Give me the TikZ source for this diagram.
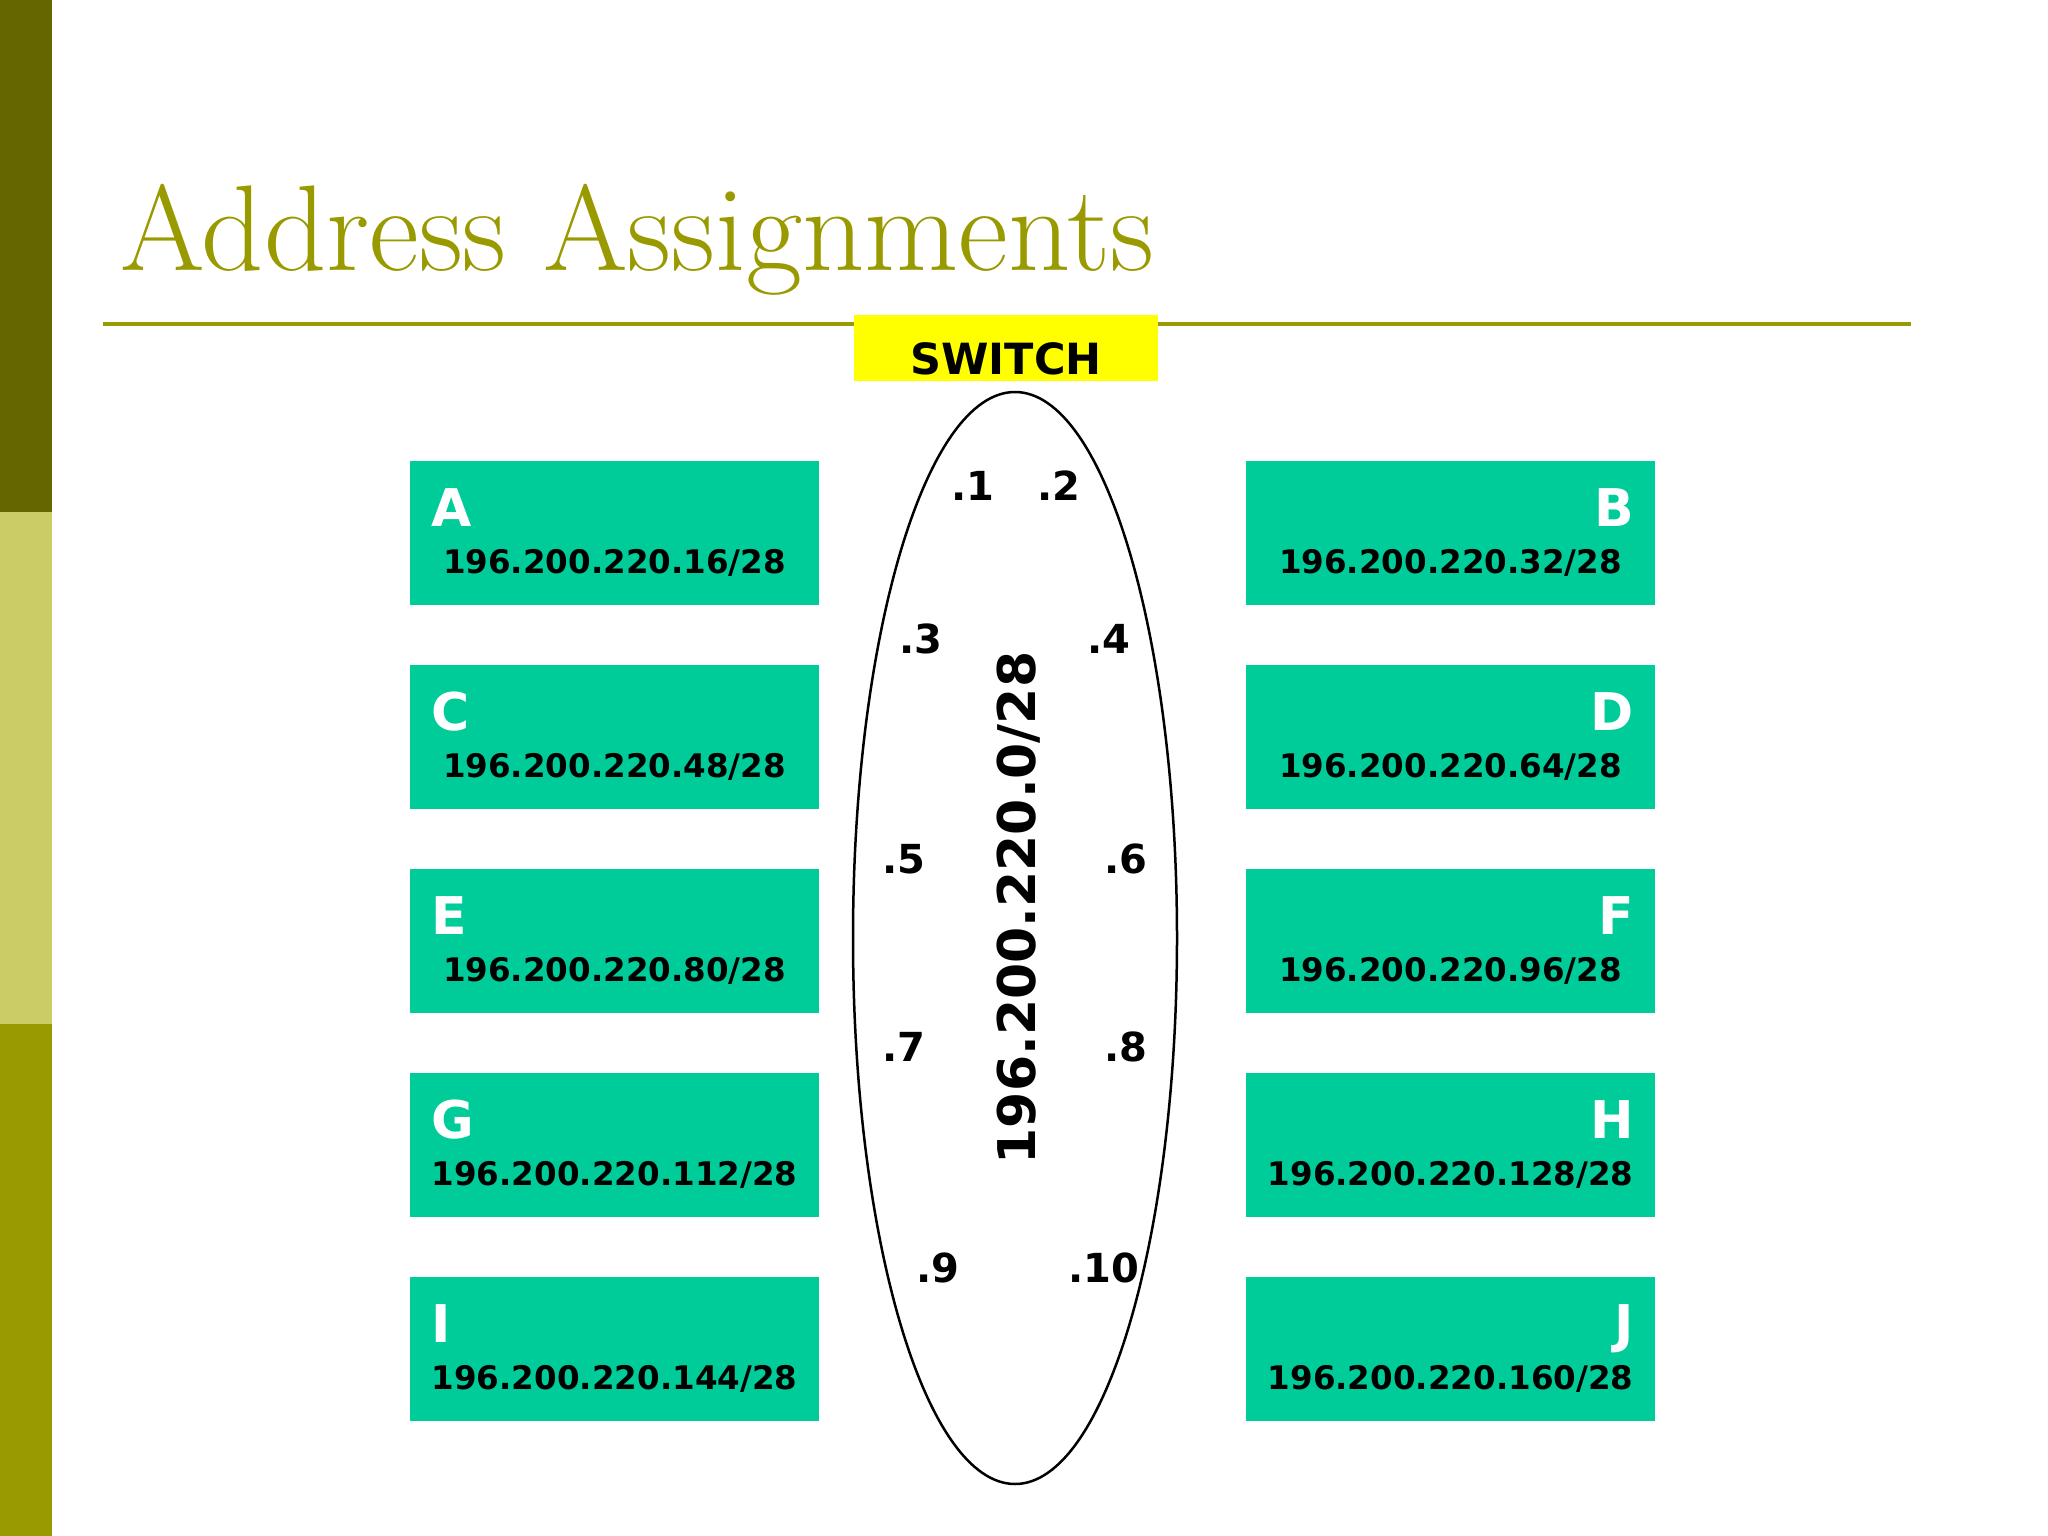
\documentclass[tikz,border=0pt]{standalone}
\usepackage{fontspec}
\usetikzlibrary{shapes.geometric}
\newfontfamily\verd{DejaVu Sans}
\definecolor{bardark}{HTML}{666600}
\definecolor{barlight}{HTML}{CCCC66}
\definecolor{barolive}{HTML}{999900}
\definecolor{titleolive}{HTML}{999900}
\definecolor{hostgreen}{HTML}{00CC99}
\definecolor{switchyellow}{HTML}{FFFF00}
\begin{document}
\begin{tikzpicture}[x=1pt,y=-1pt,
		hostbox/.style={fill=hostgreen, minimum width=409pt, minimum height=144pt, inner sep=0pt},
		hostname/.style={text=white, font=\verd\bfseries\fontsize{52}{52}\selectfont, inner sep=0pt},
		hostaddr/.style={font=\verd\bfseries\fontsize{32.5}{33}\selectfont, inner sep=0pt, anchor=base},
		dotlabel/.style={font=\verd\bfseries\fontsize{40}{40}\selectfont, inner sep=0pt}]
		\useasboundingbox (0,0) rectangle (2048,1536);
		% side bar and title
		\fill[bardark] (0,0) rectangle (52,512);
		\fill[barlight] (0,512) rectangle (52,1024);
		\fill[barolive] (0,1024) rectangle (52,1536);
		\node[anchor=base west, inner sep=0pt, text=titleolive, font=\rmfamily\fontsize{122}{122}\selectfont] (title) at (120,270) {Address Assignments};
		\draw[titleolive, line width=4pt] (103,324) -- (1911,324);
		\node[fill=switchyellow, minimum width=304pt, minimum height=66pt, inner sep=0pt] (switch) at (1006,348) {};
		\node[anchor=base, inner sep=0pt, font=\verd\bfseries\fontsize{43}{43}\selectfont] (switchtext) at (1006,374) {SWITCH};

		% the switch network
		\node[draw, ellipse, line width=2.5pt, minimum width=324pt, minimum height=1092pt, inner sep=0pt] (net) at (1015,938) {};
		\node[rotate=90, inner sep=0pt, font=\verd\bfseries\fontsize{52}{52}\selectfont] (netaddr) at (1019,908) {196.200.220.0/28};
		\node[dotlabel] (d1) at (973,486) {.1};
		\node[dotlabel] (d2) at (1059,486) {.2};
		\node[dotlabel] (d3) at (921,639) {.3};
		\node[dotlabel] (d4) at (1109,639) {.4};
		\node[dotlabel] (d5) at (904,859) {.5};
		\node[dotlabel] (d6) at (1126,859) {.6};
		\node[dotlabel] (d7) at (904,1047) {.7};
		\node[dotlabel] (d8) at (1126,1047) {.8};
		\node[dotlabel] (d9) at (938,1268) {.9};
		\node[dotlabel] (d10) at (1104,1268) {.10};

		% hosts on the left
		\node[hostbox] (boxA) at (614.5,533) {};
		\node[hostname, anchor=base west] (nameA) at ([shift={(21,66)}]boxA.north west) {A};
		\node[hostaddr] (addrA) at ([shift={(0,113)}]boxA.north) {196.200.220.16/28};
		\node[hostbox] (boxC) at (614.5,737) {};
		\node[hostname, anchor=base west] (nameC) at ([shift={(21,66)}]boxC.north west) {C};
		\node[hostaddr] (addrC) at ([shift={(0,113)}]boxC.north) {196.200.220.48/28};
		\node[hostbox] (boxE) at (614.5,941) {};
		\node[hostname, anchor=base west] (nameE) at ([shift={(21,66)}]boxE.north west) {E};
		\node[hostaddr] (addrE) at ([shift={(0,113)}]boxE.north) {196.200.220.80/28};
		\node[hostbox] (boxG) at (614.5,1145) {};
		\node[hostname, anchor=base west] (nameG) at ([shift={(21,66)}]boxG.north west) {G};
		\node[hostaddr] (addrG) at ([shift={(0,113)}]boxG.north) {196.200.220.112/28};
		\node[hostbox] (boxI) at (614.5,1349) {};
		\node[hostname, anchor=base west] (nameI) at ([shift={(21,66)}]boxI.north west) {I};
		\node[hostaddr] (addrI) at ([shift={(0,113)}]boxI.north) {196.200.220.144/28};

		% hosts on the right
		\node[hostbox] (boxB) at (1450.5,533) {};
		\node[hostname, anchor=base east] (nameB) at ([shift={(-21,66)}]boxB.north east) {B};
		\node[hostaddr] (addrB) at ([shift={(0,113)}]boxB.north) {196.200.220.32/28};
		\node[hostbox] (boxD) at (1450.5,737) {};
		\node[hostname, anchor=base east] (nameD) at ([shift={(-21,66)}]boxD.north east) {D};
		\node[hostaddr] (addrD) at ([shift={(0,113)}]boxD.north) {196.200.220.64/28};
		\node[hostbox] (boxF) at (1450.5,941) {};
		\node[hostname, anchor=base east] (nameF) at ([shift={(-21,66)}]boxF.north east) {F};
		\node[hostaddr] (addrF) at ([shift={(0,113)}]boxF.north) {196.200.220.96/28};
		\node[hostbox] (boxH) at (1450.5,1145) {};
		\node[hostname, anchor=base east] (nameH) at ([shift={(-21,66)}]boxH.north east) {H};
		\node[hostaddr] (addrH) at ([shift={(0,113)}]boxH.north) {196.200.220.128/28};
		\node[hostbox] (boxJ) at (1450.5,1349) {};
		\node[hostname, anchor=base east] (nameJ) at ([shift={(-21,66)}]boxJ.north east) {J};
		\node[hostaddr] (addrJ) at ([shift={(0,113)}]boxJ.north) {196.200.220.160/28};
	\end{tikzpicture}
\end{document}
